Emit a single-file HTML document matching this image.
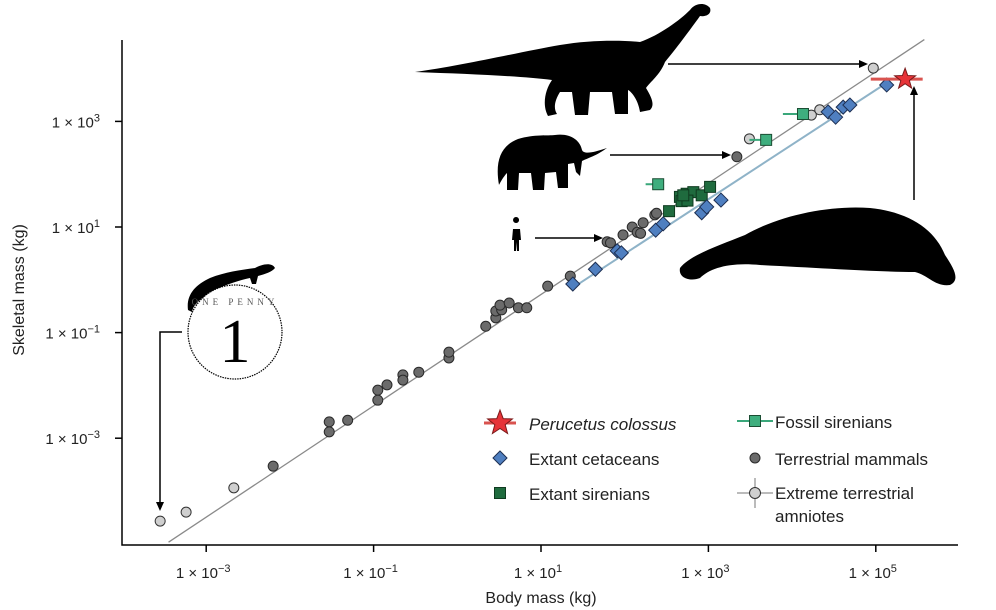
<!DOCTYPE html>
<html><head><meta charset="utf-8"><style>
body{margin:0;background:#fff;}
svg{display:block;font-family:"Liberation Sans",sans-serif;}
</style></head><body>
<svg id="chart" width="996" height="610" viewBox="0 0 996 610">
<g id="sil">
 <path fill="#000" d="M415,72 C460,66 520,52 560,45 C590,40 620,40 640,42 C660,35 680,20 690,10 C695,3 705,2 710,8 C712,14 706,17 700,16 C690,30 675,50 665,62 C660,75 650,82 646,88 C652,98 655,105 650,110 L640,112 C638,100 632,92 628,90 L628,114 L615,114 L612,92 L590,92 L588,115 L575,115 L572,92 L560,92 C555,100 553,108 557,114 L548,116 C542,105 545,90 552,80 C520,76 470,74 415,72Z"/>
 <path fill="#000" d="M499,185 C495,162 500,146 518,139 C535,134 548,136 555,135 C570,133 580,140 582,150 C584,155 595,152 607,148 C596,156 588,158 582,161 L580,176 L576,172 L574,163 L568,164 L568,188 L558,188 L556,172 L545,173 L544,190 L533,190 L531,173 L519,173 L518,190 L507,190 L507,173 C503,177 499,185 499,185Z"/>
 <path fill="#000" d="M516,223 a3,3 0 1,1 0.1,0 Z M513,229 L520,229 L521,240 L519,240 L519,251 L517,251 L516.5,242 L516,251 L514,251 L514,240 L512,240Z"/>
 <path fill="#000" d="M680,268 C690,255 720,245 745,235 C780,215 830,205 870,208 C910,212 935,230 945,255 C955,270 960,280 950,285 C935,287 928,275 915,272 C880,272 820,268 760,265 C730,262 710,268 700,278 C690,282 678,278 680,268Z"/>
 <path fill="#000" d="M188,310 C186,295 195,285 210,278 C225,272 240,270 255,268 C262,264 272,262 275,268 C272,272 265,274 258,276 L256,284 L252,284 L250,278 C240,280 225,285 215,290 L212,300 L206,296 C198,300 193,306 192,312Z"/>
 <circle cx="235" cy="332" r="47" fill="#fff" stroke="#000" stroke-width="1.2" stroke-dasharray="1.5 1"/>
 <text x="235" y="362" font-family="Liberation Serif,serif" font-size="62" text-anchor="middle" fill="#000">1</text>
 <text x="235" y="305" font-family="Liberation Serif,serif" font-size="9" text-anchor="middle" fill="#555" letter-spacing="4">ONE PENNY</text>
</g>
<g stroke="#000" stroke-width="1.5" fill="none">
 <path d="M668,64 L862,64"/><path d="M535,238 L596,238"/><path d="M610,155 L725,155"/><path d="M914,200 L914,92"/><path d="M182,332 L160,332 L160,505"/>
</g>
<g fill="#000">
 <path d="M868,64 l-9,-4 v8z"/><path d="M603,238 l-9,-4 v8z"/><path d="M731,155 l-9,-4 v8z"/><path d="M914,86 l-4,9 h8z"/><path d="M160,511 l-4,-9 h8z"/>
</g>
<g id="plot"></g>
</svg>
<script>
const circleDark=[[-2.20,-3.53],[-1.53,-2.69],[-1.53,-2.88],[-1.31,-2.66],[-0.95,-2.28],[-0.95,-2.09],[-0.84,-1.99],[-0.65,-1.80],[-0.65,-1.90],[-0.46,-1.75],[-0.10,-1.48],[-0.10,-1.37],[0.34,-0.88],[0.46,-0.72],[0.46,-0.59],[0.53,-0.57],[0.51,-0.48],[0.62,-0.44],[0.73,-0.53],[0.83,-0.53],[1.08,-0.12],[1.35,0.07],[1.79,0.72],[1.83,0.70],[1.98,0.85],[2.09,1.0],[2.15,0.90],[2.19,0.88],[2.22,1.08],[2.36,1.23],[2.38,1.26],[3.34,2.33]];
const circleLight=[[-3.55,-4.57],[-3.24,-4.40],[-2.67,-3.94],[3.49,2.67],[4.23,3.12],[4.33,3.22],[4.97,4.01]];
const diamonds=[[1.38,-0.08],[1.65,0.20],[1.91,0.55],[1.96,0.51],[2.37,0.94],[2.46,1.06],[2.92,1.27],[2.98,1.38],[3.15,1.51],[4.43,3.18],[4.52,3.08],[4.61,3.27],[4.69,3.31],[5.13,3.69]];
const sirenExtant=[[2.53,1.30],[2.66,1.57],[2.68,1.49],[2.74,1.63],[2.82,1.66],[2.92,1.60],[3.02,1.76],[2.75,1.50],[2.70,1.60]];
const sirenFossil=[[2.40,1.81,2.25],[3.69,2.65,3.49],[4.13,3.14,3.89]];
const star=[5.35,3.80,4.94,5.56];
const xTicks=[-3,-1,1,3,5];
const yTicks=[-3,-1,1,3];
const fitGray=[[-3.45,-4.97],[5.58,4.55]];
const fitBlue=[[1.38,-0.15],[5.13,3.73]];
const X=l=>541+83.7*(l-1), Y=l=>227-52.8*(l-1);
const NS='http://www.w3.org/2000/svg';
const plot=document.getElementById('plot');
function mk(t,a,p){const e=document.createElementNS(NS,t);for(const k in a)e.setAttribute(k,a[k]);(p||plot).appendChild(e);return e;}
let ax=mk('path',{d:'M122,40 L122,545 L958,545',stroke:'#000','stroke-width':1.5,fill:'none'});


function tickLabel(x,y,e,anchor,nm){const t=mk('text',{x:x,y:y,'font-size':15,'text-anchor':anchor,fill:'#222'});t.innerHTML='1 × 10<tspan dy="-6" font-size="11">'+(e<0?'−'+(-e):e)+'</tspan>';

}
xTicks.forEach(v=>{const x=X(v);const l=mk('line',{x1:x,x2:x,y1:545,y2:552,stroke:'#000','stroke-width':1.5});


tickLabel(x-3,578,v,'middle','x-tick-label');});
yTicks.forEach(v=>{const y=Y(v);const l=mk('line',{x1:115,x2:122,y1:y,y2:y,stroke:'#000','stroke-width':1.5});


tickLabel(100,y+6,v,'end','y-tick-label');});
let xt=mk('text',{x:541,y:603,'font-size':16,'text-anchor':'middle',fill:'#222'});xt.textContent='Body mass (kg)';


let yt=mk('text',{x:24,y:290,'font-size':16,'text-anchor':'middle',fill:'#222',transform:'rotate(-90 24 290)'});yt.textContent='Skeletal mass (kg)';


let fg=mk('line',{x1:X(fitGray[0][0]),y1:Y(fitGray[0][1]),x2:X(fitGray[1][0]),y2:Y(fitGray[1][1]),stroke:'#8a8a8a','stroke-width':1.3});


let fb=mk('line',{x1:X(fitBlue[0][0]),y1:Y(fitBlue[0][1]),x2:X(fitBlue[1][0]),y2:Y(fitBlue[1][1]),stroke:'#8fb3c8','stroke-width':2});


circleDark.forEach(p=>{const c=mk('circle',{cx:X(p[0]),cy:Y(p[1]),r:5,fill:'#6b6b6b',stroke:'#2a2a2a','stroke-width':1});

});
circleLight.forEach(p=>{const c=mk('circle',{cx:X(p[0]),cy:Y(p[1]),r:5,fill:'#cfcfcf',stroke:'#333','stroke-width':1});

});
sirenFossil.forEach(p=>{const l=mk('line',{x1:X(p[2]),x2:X(p[0]),y1:Y(p[1]),y2:Y(p[1]),stroke:'#3aa77a','stroke-width':2});


const r=mk('rect',{x:X(p[0])-5.5,y:Y(p[1])-5.5,width:11,height:11,fill:'#3fae7e',stroke:'#1b4d33','stroke-width':1});

});
sirenExtant.forEach(p=>{const r=mk('rect',{x:X(p[0])-5.5,y:Y(p[1])-5.5,width:11,height:11,fill:'#1f6b3e',stroke:'#0f3a1f','stroke-width':1});

});
diamonds.forEach(p=>{const x=X(p[0]),y=Y(p[1]);const d=mk('path',{d:`M${x},${y-7} L${x+7},${y} L${x},${y+7} L${x-7},${y}Z`,fill:'#4f7fc0',stroke:'#1d2f52','stroke-width':1});

});
function starPath(cx,cy,R,r){let s='';for(let i=0;i<10;i++){const a=-Math.PI/2+i*Math.PI/5,rr=i%2?r:R;s+=(i?'L':'M')+(cx+rr*Math.cos(a)).toFixed(1)+','+(cy+rr*Math.sin(a)).toFixed(1);}return s+'Z';}
let sb=mk('line',{x1:X(star[2]),x2:X(star[3]),y1:Y(star[1]),y2:Y(star[1]),stroke:'#d9534f','stroke-width':3});


let sp=mk('path',{d:starPath(X(star[0]),Y(star[1]),11,4.5),fill:'#e63338',stroke:'#7a1a1a','stroke-width':1});


const lg=mk('g',{});


function ltext(x,y,s,it){const t=mk('text',{x:x,y:y,'font-size':17,fill:'#222','font-style':it?'italic':'normal'},lg);t.textContent=s;

}
mk('line',{x1:484,x2:516,y1:423,y2:423,stroke:'#d9534f','stroke-width':3},lg);
mk('path',{d:starPath(500,423,13,5.5),fill:'#e63338',stroke:'#7a1a1a'},lg);
ltext(529,430,'Perucetus colossus',true);
mk('path',{d:'M500,451 L507,458 L500,465 L493,458Z',fill:'#4f7fc0',stroke:'#1d2f52'},lg);
ltext(529,465,'Extant cetaceans');
mk('rect',{x:494.5,y:487.5,width:11,height:11,fill:'#1f6b3e',stroke:'#0f3a1f'},lg);
ltext(529,500,'Extant sirenians');
mk('line',{x1:737,x2:773,y1:421,y2:421,stroke:'#3aa77a','stroke-width':2},lg);
mk('rect',{x:749.5,y:415.5,width:11,height:11,fill:'#3fae7e',stroke:'#1b4d33'},lg);
ltext(775,428,'Fossil sirenians');
mk('circle',{cx:755,cy:458,r:5,fill:'#6b6b6b',stroke:'#2a2a2a'},lg);
ltext(775,465,'Terrestrial mammals');
mk('line',{x1:737,x2:773,y1:493,y2:493,stroke:'#bbb','stroke-width':2},lg);
mk('line',{x1:755,x2:755,y1:478,y2:508,stroke:'#bbb','stroke-width':2},lg);
mk('circle',{cx:755,cy:493,r:5.5,fill:'#cfcfcf',stroke:'#333'},lg);
ltext(775,499,'Extreme terrestrial');
ltext(775,522,'amniotes');
</script>
</body></html>
